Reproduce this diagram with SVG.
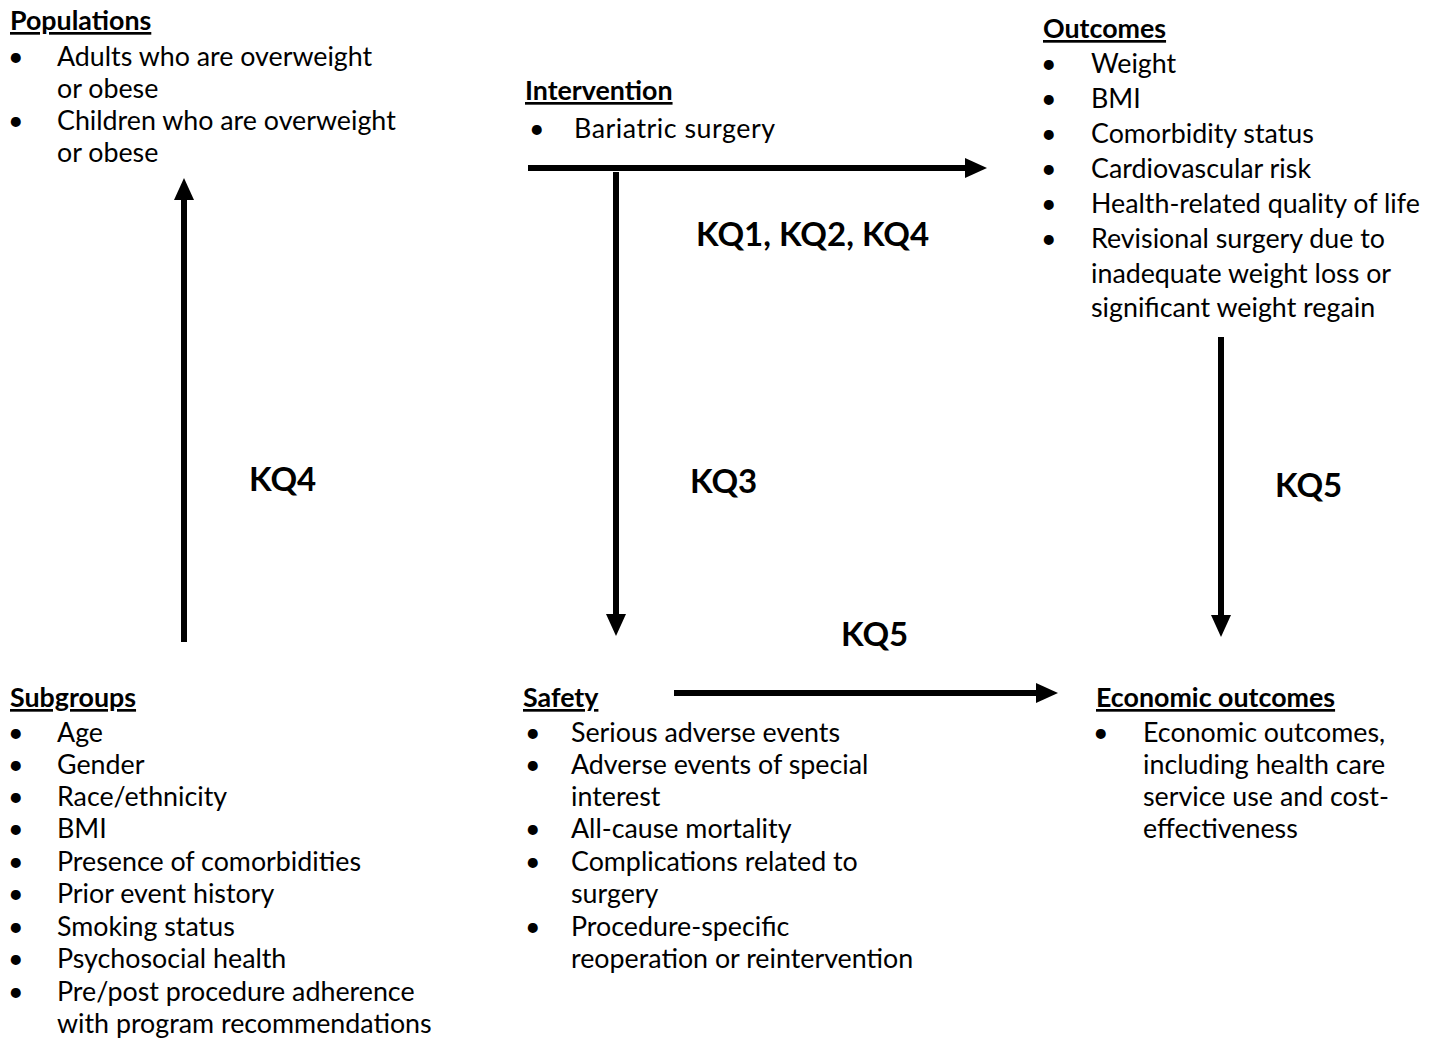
<svg xmlns="http://www.w3.org/2000/svg" width="1437" height="1038" viewBox="0 0 1437 1038">
<style>
text{font-family:Lato,"Liberation Sans",sans-serif;font-size:26.8px;fill:#000}
.h{font-weight:bold;text-decoration:underline}
.kq{font-weight:bold;font-size:33px}
.ln{stroke:#000;stroke-width:6;fill:none}
</style>
<defs>
<marker id="ah" markerUnits="userSpaceOnUse" markerWidth="22" markerHeight="22" refX="0" refY="10" orient="auto" viewBox="0 0 22 20">
<polygon points="0,0 22,10 0,20" fill="#000"/>
</marker>
</defs>
<rect width="1437" height="1038" fill="#fff"/>
<g id="populations">
<text class="h" x="10" y="30">Populations</text>
<text x="8" y="66">•</text><text x="57" y="66">Adults who are overweight</text>
<text x="57" y="98">or obese</text>
<text x="8" y="130">•</text><text x="57" y="130">Children who are overweight</text>
<text x="57" y="162">or obese</text>
</g>
<g id="intervention">
<text class="h" x="525" y="100">Intervention</text>
<text x="529" y="138">•</text><text x="574" y="138" textLength="201">Bariatric surgery</text>
</g>
<g id="outcomes">
<text class="h" x="1043" y="38">Outcomes</text>
<text x="1041" y="73">•</text><text x="1091" y="73">Weight</text>
<text x="1041" y="108">•</text><text x="1091" y="108">BMI</text>
<text x="1041" y="143">•</text><text x="1091" y="143">Comorbidity status</text>
<text x="1041" y="178">•</text><text x="1091" y="178">Cardiovascular risk</text>
<text x="1041" y="213">•</text><text x="1091" y="213">Health-related quality of life</text>
<text x="1041" y="248">•</text><text x="1091" y="248">Revisional surgery due to</text>
<text x="1091" y="283">inadequate weight loss or</text>
<text x="1091" y="317">significant weight regain</text>
</g>
<g id="subgroups">
<text class="h" x="10" y="707">Subgroups</text>
<text x="8" y="742">•</text><text x="57" y="742">Age</text>
<text x="8" y="774">•</text><text x="57" y="774">Gender</text>
<text x="8" y="806">•</text><text x="57" y="806">Race/ethnicity</text>
<text x="8" y="838">•</text><text x="57" y="838">BMI</text>
<text x="8" y="871">•</text><text x="57" y="871">Presence of comorbidities</text>
<text x="8" y="903">•</text><text x="57" y="903">Prior event history</text>
<text x="8" y="936">•</text><text x="57" y="936">Smoking status</text>
<text x="8" y="968">•</text><text x="57" y="968">Psychosocial health</text>
<text x="8" y="1001">•</text><text x="57" y="1001">Pre/post procedure adherence</text>
<text x="57" y="1033">with program recommendations</text>
</g>
<g id="safety">
<text class="h" x="523" y="707">Safety</text>
<text x="525" y="742">•</text><text x="571" y="742">Serious adverse events</text>
<text x="525" y="774">•</text><text x="571" y="774">Adverse events of special</text>
<text x="571" y="806">interest</text>
<text x="525" y="838">•</text><text x="571" y="838">All-cause mortality</text>
<text x="525" y="871">•</text><text x="571" y="871">Complications related to</text>
<text x="571" y="903">surgery</text>
<text x="525" y="936">•</text><text x="571" y="936">Procedure-specific</text>
<text x="571" y="968">reoperation or reintervention</text>
</g>
<g id="economic">
<text class="h" x="1096" y="707">Economic outcomes</text>
<text x="1093" y="742">•</text><text x="1143" y="742">Economic outcomes,</text>
<text x="1143" y="774">including health care</text>
<text x="1143" y="806">service use and cost-</text>
<text x="1143" y="838">effectiveness</text>
</g>
<g id="connectors">
<line class="ln" x1="184" y1="642" x2="184" y2="200" marker-end="url(#ah)"/>
<line class="ln" x1="528" y1="168" x2="965" y2="168" marker-end="url(#ah)"/>
<line class="ln" x1="616" y1="172" x2="616" y2="614" marker-end="url(#ah)"/>
<line class="ln" x1="1221" y1="337" x2="1221" y2="615" marker-end="url(#ah)"/>
<line class="ln" x1="674" y1="693" x2="1036" y2="693" marker-end="url(#ah)"/>
<text class="kq" x="696" y="246">KQ1, KQ2, KQ4</text>
<text class="kq" x="249" y="491">KQ4</text>
<text class="kq" x="690" y="493">KQ3</text>
<text class="kq" x="1275" y="497">KQ5</text>
<text class="kq" x="841" y="646">KQ5</text>
</g>
</svg>
